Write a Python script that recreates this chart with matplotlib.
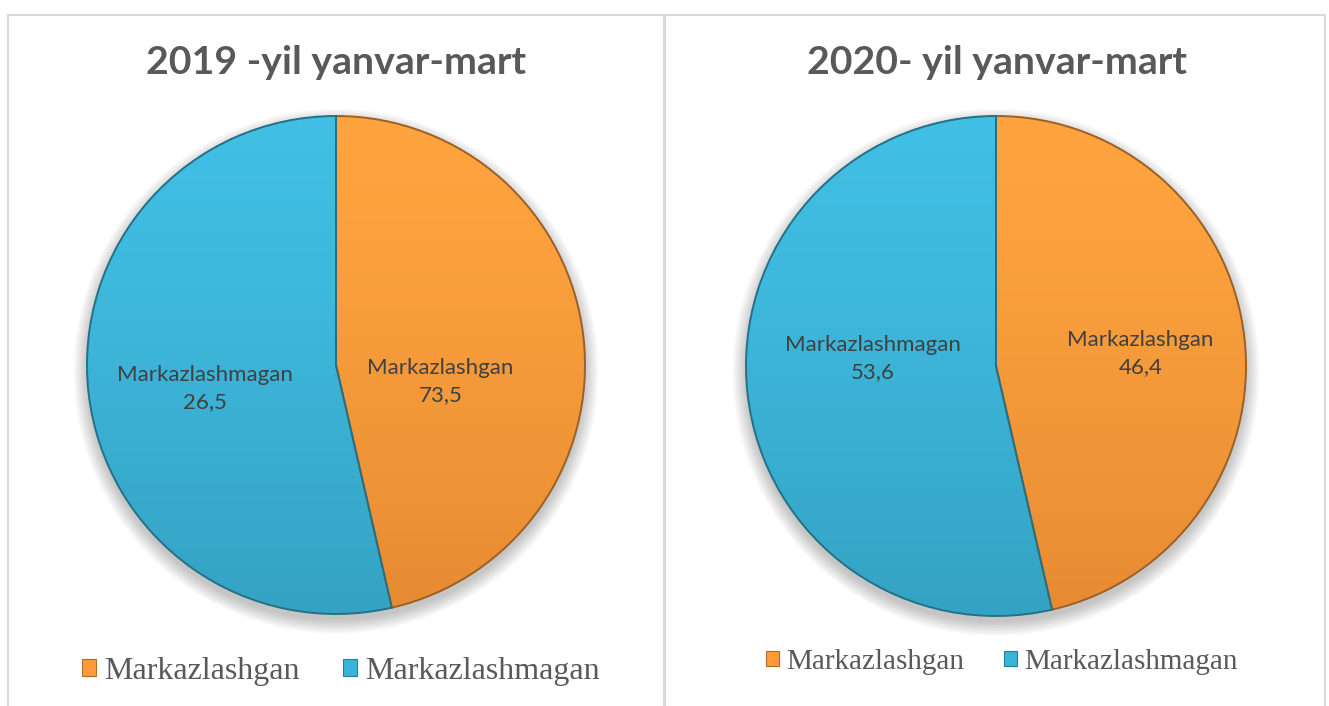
import matplotlib
matplotlib.use('Agg')
import matplotlib.pyplot as plt
import numpy as np
from matplotlib.patches import Rectangle, Circle, Patch, Wedge
from matplotlib.colors import to_rgb

# ---------------- data ----------------
categories = ['Markazlashgan', 'Markazlashmagan']
titles = ['2019 -yil yanvar-mart', '2020- yil yanvar-mart']
# slice shares as drawn in the picture
shares_2019 = [46.4, 53.6]
shares_2020 = [46.4, 53.6]
# values printed on the slices
labels_2019 = ['73,5', '26,5']
labels_2020 = ['46,4', '53,6']
colors = ['#FF9A38', '#3AB4D8']

# ---------------- layout ----------------
W, H = 1329, 706
fig = plt.figure(figsize=(W / 100, H / 100), dpi=100)
fig.patch.set_facecolor('white')

# panel frames
for (x0, x1) in [(8, 664), (665, 1325)]:
    fig.patches.append(Rectangle((x0 / W, -0.05), (x1 - x0) / W, 1.05 - 15 / H,
                                 transform=fig.transFigure, fill=False,
                                 edgecolor='#d9d9d9', linewidth=1.5))

panels = [
    dict(cx=336, cy=365, r=249, title_x=336, title_y=62, shares=shares_2019,
         vals=labels_2019, lab_pos=[(0.42, -0.066), (-0.526, -0.094)],
         leg_x=341, leg_y=671, leg_fs=23),
    dict(cx=996, cy=366, r=250, title_x=997, title_y=62, shares=shares_2020,
         vals=labels_2020, lab_pos=[(0.578, 0.05), (-0.494, 0.03)],
         leg_x=1002, leg_y=662, leg_fs=21),
]


def darker(c, f):
    return tuple(np.clip(np.array(to_rgb(c)) * f, 0, 1))


for p, title in zip(panels, titles):
    pad = 1.12
    R = p['r'] * pad
    ax = fig.add_axes([(p['cx'] - R) / W, (H - p['cy'] - R) / H, 2 * R / W, 2 * R / H])
    wedges, _ = ax.pie(p['shares'], colors=colors, startangle=90, counterclock=False,
                       radius=1, wedgeprops=dict(linewidth=0))
    # soft shadow
    for i in range(10):
        ax.add_patch(Circle((0.0, -0.025), 1.0 + 0.006 * i, color='black',
                            alpha=0.025, zorder=0, linewidth=0))
    # gradient fill clipped to each wedge + darker outline
    for w, c in zip(wedges, colors):
        rgb = np.array(to_rgb(c))
        top = np.clip(rgb * 1.03 + 0.02, 0, 1)
        bot = rgb * 0.9
        t = np.linspace(0, 1, 256)[:, None, None] ** 1.4
        img = top[None, None, :] * (1 - t) + bot[None, None, :] * t
        im = ax.imshow(img, extent=(-1, 1, -1, 1), origin='upper', aspect='auto',
                       zorder=2, interpolation='bilinear')
        im.set_clip_path(w)
        ax.add_patch(Wedge(w.center, w.r, w.theta1, w.theta2, fill=False,
                           edgecolor=darker(c, 0.62), linewidth=1.4, zorder=3))
    ax.set_xlim(-pad, pad)
    ax.set_ylim(-pad, pad)
    ax.set_aspect('equal')
    ax.axis('off')

    for (lx, ly), cat, val in zip(p['lab_pos'], categories, p['vals']):
        ax.text(lx, ly, f'{cat}\n{val}', ha='center', va='center', fontsize=16,
                family='Lato', color='#404040', linespacing=1.4, zorder=5)

    fig.text(p['title_x'] / W, 1 - p['title_y'] / H, title, ha='center', va='center',
             fontsize=28.3, fontweight='bold', family='Lato', color='#595959')

    handles = [Patch(facecolor=c, edgecolor=darker(c, 0.7), linewidth=0.8) for c in colors]
    fig.legend(handles, categories, loc='center',
               bbox_to_anchor=(p['leg_x'] / W, 1 - p['leg_y'] / H),
               bbox_transform=fig.transFigure, ncol=2, frameon=False,
               prop={'family': 'Liberation Serif', 'size': p['leg_fs']},
               labelcolor='#595959', handlelength=0.45, handleheight=0.45,
               handletextpad=0.25, columnspacing=1.35, borderpad=0)

fig.savefig('out.png', dpi=100, facecolor='white')
